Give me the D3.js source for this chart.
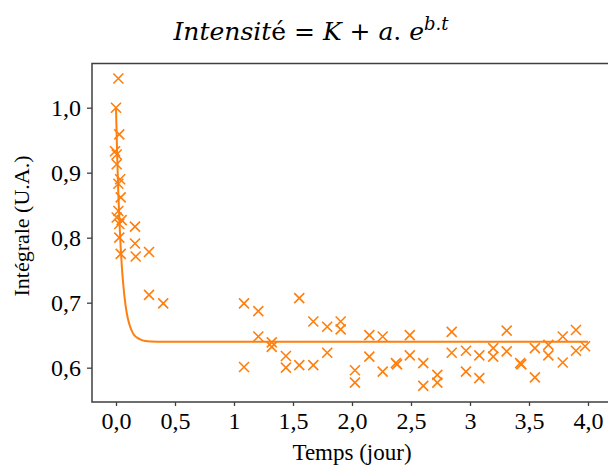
<!DOCTYPE html>
<html>
<head>
<meta charset="utf-8">
<script src="https://cdn.jsdelivr.net/npm/d3@7"></script>
<style>
  html, body { margin: 0; padding: 0; background: #ffffff; }
  svg { display: block; }
</style>
</head>
<body>
<svg id="chart" width="608" height="466"></svg>
<script>
// ---- data ----
const timeDays = [
  0.02, 0.0, 0.028, -0.008, 0.006, 0.006, 0.035, 0.02, 0.04, 0.02, 0.006, 0.048, 0.028, 0.028, 0.04,
  0.161, 0.161, 0.167, 0.28, 0.28, 0.40,
  1.085, 1.085, 1.206, 1.206, 1.32, 1.32, 1.44, 1.44, 1.553, 1.553, 1.672, 1.672,
  1.79, 1.79, 1.904, 1.904, 2.025, 2.025, 2.147, 2.147, 2.26, 2.26, 2.372, 2.382,
  2.49, 2.49, 2.604, 2.604, 2.723, 2.723, 2.845, 2.845, 2.966, 2.966, 3.079, 3.079,
  3.197, 3.197, 3.311, 3.311, 3.425, 3.435, 3.55, 3.55, 3.664, 3.664, 3.786, 3.786,
  3.898, 3.898, 3.975
];
const intensity = [
  1.045, 1.0, 0.959, 0.933, 0.928, 0.913, 0.89, 0.883, 0.862, 0.841, 0.831, 0.827, 0.821, 0.80, 0.775,
  0.817, 0.791, 0.771, 0.778, 0.712, 0.699,
  0.699, 0.601, 0.687, 0.648, 0.639, 0.632, 0.618, 0.600, 0.707, 0.604, 0.671, 0.604,
  0.663, 0.623, 0.671, 0.659, 0.596, 0.577, 0.650, 0.617, 0.648, 0.594, 0.607, 0.605,
  0.650, 0.619, 0.607, 0.572, 0.589, 0.577, 0.655, 0.623, 0.626, 0.594, 0.619, 0.584,
  0.630, 0.617, 0.657, 0.625, 0.607, 0.605, 0.630, 0.585, 0.635, 0.619, 0.648, 0.608,
  0.658, 0.626, 0.633
];
// fitted curve
const fitTime = [0, 0.01, 0.02, 0.03, 0.04, 0.05, 0.06, 0.08, 0.10, 0.12, 0.15, 0.20, 0.25, 0.30, 0.40, 1.0, 2.0, 3.0, 4.0];
const fitValue = [1.0, 0.926, 0.867, 0.821, 0.784, 0.754, 0.731, 0.697, 0.676, 0.663, 0.651, 0.644, 0.641, 0.6404, 0.640, 0.640, 0.640, 0.640, 0.640];

const xTicks = [0, 0.5, 1, 1.5, 2, 2.5, 3, 3.5, 4];
const xTickLabels = ["0,0", "0,5", "1", "1,5", "2,0", "2,5", "3", "3,5", "4,0"];
const yTicks = [0.6, 0.7, 0.8, 0.9, 1.0];
const yTickLabels = ["0,6", "0,7", "0,8", "0,9", "1,0"];

// ---- layout ----
const plotLeft = 92, plotRight = 612, plotTop = 63.5, plotBottom = 402;
const color = "#ff7f0e";
const frameColor = "#3f3f3f";
const serif = "'Liberation Serif', 'Times New Roman', serif";

const svg = d3.select("#chart");
svg.append("rect").attr("width", 608).attr("height", 466).attr("fill", "#fff");

const x = d3.scaleLinear().domain([-0.2034, 4.2034]).range([plotLeft, plotRight]);
const y = d3.scaleLinear().domain([0.5472, 1.068]).range([plotBottom, plotTop]);

// axes
const xAxis = d3.axisBottom(x).tickValues(xTicks)
  .tickFormat((d, i) => xTickLabels[i]).tickSize(4).tickSizeOuter(0).tickPadding(6);
const yAxis = d3.axisLeft(y).tickValues(yTicks)
  .tickFormat((d, i) => yTickLabels[i]).tickSize(5).tickSizeOuter(0).tickPadding(6);

const gx = svg.append("g").attr("transform", `translate(0,${plotBottom})`).call(xAxis);
const gy = svg.append("g").attr("transform", `translate(${plotLeft},0)`).call(yAxis);
[gx, gy].forEach(g => {
  g.select(".domain").remove();
  g.selectAll(".tick line").attr("stroke", frameColor).attr("stroke-width", 1.3);
  g.selectAll(".tick text").attr("fill", "#000").style("font-family", serif).style("font-size", "24px");
});

// frame
svg.append("path")
  .attr("d", `M${plotRight},${plotTop}H${plotLeft}V${plotBottom}H${plotRight}Z`)
  .attr("fill", "none").attr("stroke", frameColor).attr("stroke-width", 1.5);

// fitted curve
const curvePts = fitTime.map((t, i) => [t, fitValue[i]]);
svg.append("path")
  .datum(curvePts)
  .attr("fill", "none").attr("stroke", color).attr("stroke-width", 2)
  .attr("d", d3.line().x(d => x(d[0])).y(d => y(d[1])).curve(d3.curveMonotoneX));

// markers
const pts = timeDays.map((t, i) => [t, intensity[i]]);
svg.append("g").selectAll("path").data(pts).join("path")
  .attr("transform", d => `translate(${x(d[0])},${y(d[1])})`)
  .attr("d", "M-5,-5L5,5M-5,5L5,-5")
  .attr("stroke", color).attr("stroke-width", 1.6).attr("fill", "none");

// axis titles
svg.append("text")
  .attr("x", (x(0) + x(4)) / 2).attr("y", 460)
  .attr("text-anchor", "middle")
  .style("font-family", serif).style("font-size", "23px")
  .text("Temps (jour)");

svg.append("text")
  .attr("transform", "translate(29,226) rotate(-90)")
  .attr("text-anchor", "middle")
  .style("font-family", serif).style("font-size", "22px")
  .text("Intégrale (U.A.)");

// chart title (formula)
const titleFont = "'DejaVu Serif', serif";
const title = svg.append("text")
  .attr("x", 311).attr("y", 40)
  .attr("text-anchor", "middle")
  .style("font-family", titleFont).style("font-size", "25px");
title.append("tspan").style("font-style", "italic").text("Intensit");
title.append("tspan").text("é = ");
title.append("tspan").style("font-style", "italic").text("K");
title.append("tspan").text(" + ");
title.append("tspan").style("font-style", "italic").text("a");
title.append("tspan").text(". ");
title.append("tspan").style("font-style", "italic").text("e");
title.append("tspan").style("font-style", "italic").style("font-size", "18px").attr("dy", -10).text("b.t");
</script>
</body>
</html>
